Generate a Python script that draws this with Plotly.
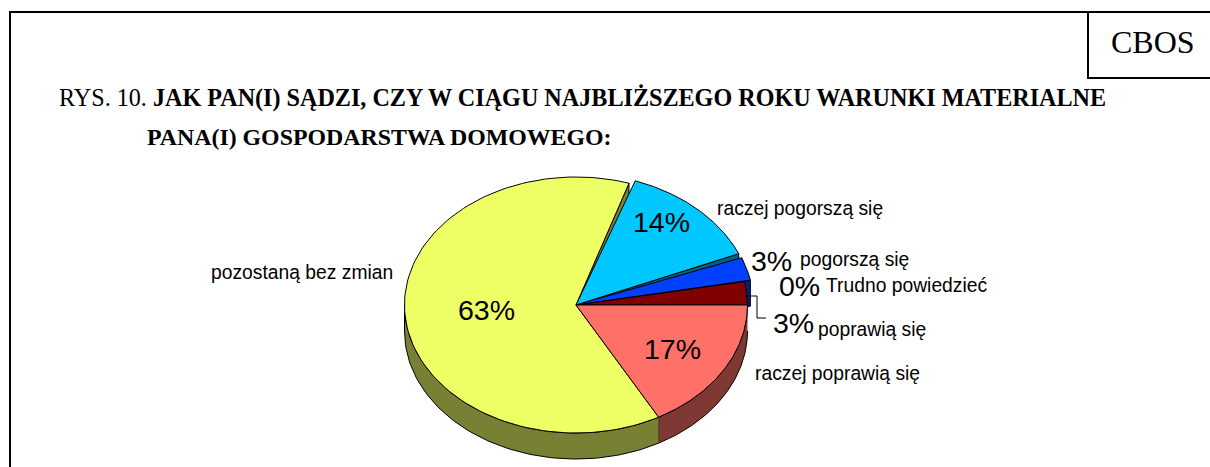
import numpy as np
import plotly.graph_objects as go

# ---- data ----
categories = ["raczej poprawią się", "pozostaną bez zmian", "raczej pogorszą się",
              "pogorszą się", "Trudno powiedzieć", "poprawią się"]
shares = [17, 63, 14, 3, 0, 3]
title_lead = "RYS. 10. "
title_line1 = "JAK PAN(I) SĄDZI, CZY W CIĄGU NAJBLIŻSZEGO ROKU WARUNKI MATERIALNE"
title_line2 = "PANA(I) GOSPODARSTWA DOMOWEGO:"
badge = "CBOS"

# ---- styles ----
top_colors = ["#FF7068", "#EEFF66", "#00C8FF", "#0040FF", "#0A2F8A", "#800000"]
side_colors = ["#803835", "#778033", "#006480", "#002080", "#002080", "#400000"]
scale = [1.0, 1.0, 1.03, 1.035, 1.0, 1.0]
gap_before = np.radians([0, 0, 1.6, 0.4, 0, 0])   # pulled-out slices leave a thin gap
gap_after = np.radians([0, 0, 1.3, 0.0, 0, 0])
CX, CY, RX, RY, DEPTH = 576.0, 305.0, 171.5, 128.0, 26.0
W, H = 1210, 467

edges = np.concatenate([[0], np.cumsum(shares)]) / sum(shares) * 2 * np.pi


def pt(t, s=1.0):
    return CX + RX * s * np.cos(t), CY + RY * s * np.sin(t)


def poly(xs, ys, fill, width=1.0):
    return go.Scatter(x=list(xs), y=list(ys), mode="lines", fill="toself", fillcolor=fill,
                      line=dict(color="black", width=width), hoverinfo="skip", showlegend=False)


fig = go.Figure()

# outer walls (only the part of the rim facing the viewer)
for i in range(len(shares)):
    a, b = edges[i], min(edges[i + 1], np.pi)
    if b > a and a < np.pi:
        t = np.linspace(a, b, 80)
        x, y = pt(t, scale[i])
        fig.add_trace(poly(np.r_[x, x[::-1]], np.r_[y, y[::-1] + DEPTH], side_colors[i]))

# cut faces seen through the small gaps of the pulled-out slices
for i in (1, 2, 3):
    ex, ey = pt(edges[i + 1] - gap_after[i], scale[i])
    fig.add_trace(poly([CX, ex, ex, CX, CX], [CY, ey, ey + DEPTH, CY + DEPTH, CY], side_colors[i]))

# top faces
for i in (1, 2, 3, 5, 0):
    if shares[i] == 0:
        continue
    t = np.linspace(edges[i] + gap_before[i], edges[i + 1] - gap_after[i], 120)
    x, y = pt(t, scale[i])
    fig.add_trace(poly(np.r_[CX, x, CX], np.r_[CY, y, CY], top_colors[i]))

# leader line of the small slice
fig.add_trace(go.Scatter(x=[745, 757, 757, 766], y=[296, 296, 318, 318], mode="lines",
                         line=dict(color="black", width=1), hoverinfo="skip", showlegend=False))

SANS = "Liberation Sans"
SERIF = "Liberation Serif"


def label(x, y, text, size, family=SANS, anchor="left"):
    fig.add_annotation(x=x, y=y, text=text, showarrow=False, xanchor=anchor, yanchor="middle",
                       xref="x", yref="y", align="left", borderpad=0,
                       font=dict(family=family, size=size, color="black"))


# category labels and their placement
cat_pos = [(754, 373), (210, 272), (716, 208), (799, 259), (825, 285), (817, 329)]
pct_pos = [(672, 349, "center"), (486, 310, "center"), (661, 222, "center"),
           (750, 261, "left"), (778, 286, "left"), (772, 323, "left")]
for name, (x, y) in zip(categories, cat_pos):
    label(x, y, name, 19.3)
for v, (x, y, anc) in zip(shares, pct_pos):
    label(x, y, f"{v}%", 28.5, anchor=anc)

label(58, 98, f"{title_lead}<b>{title_line1}</b>", 24.15, SERIF)
label(146, 137, f"<b>{title_line2}</b>", 23.85, SERIF)
label(1153, 42, badge, 32, SERIF, "center")

line = dict(color="black", width=2)
for x0, y0, x1, y1 in [(9, 12, W, 12), (10, 11, 10, H), (1088, 11, 1088, 78), (1087, 78, W, 78)]:
    fig.add_shape(type="line", x0=x0, y0=y0, x1=x1, y1=y1, xref="x", yref="y", line=line)

fig.update_layout(width=W, height=H, margin=dict(l=0, r=0, t=0, b=0), autosize=False,
                  paper_bgcolor="white", plot_bgcolor="white", showlegend=False,
                  xaxis=dict(range=[0, W], visible=False, fixedrange=True),
                  yaxis=dict(range=[H, 0], visible=False, fixedrange=True))
fig.write_html("out.html", config=dict(displayModeBar=False),
               post_script="document.body.style.margin='0';document.body.style.overflow='hidden';")
